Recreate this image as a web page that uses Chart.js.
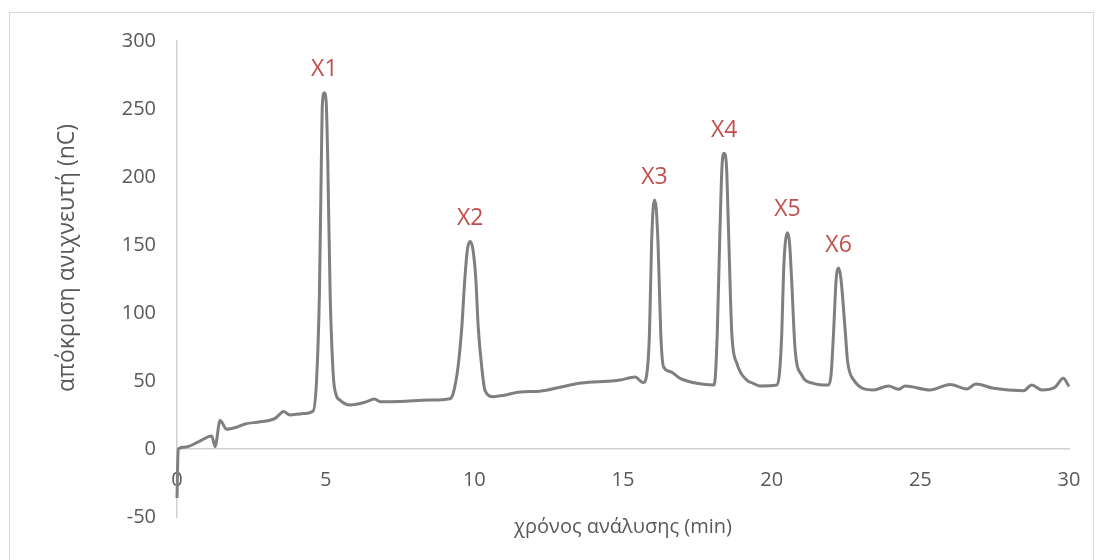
<!DOCTYPE html>
<html lang="el">
<head>
<meta charset="UTF-8">
<title>Χρωματογράφημα</title>
<script src="https://cdn.jsdelivr.net/npm/chart.js@4"></script>
<style>
  body { margin: 0; background: #fff; }
  #wrap { position: relative; width: 1103px; height: 560px; }
</style>
</head>
<body>
<div id="wrap"><canvas id="chart" width="1103" height="560"></canvas></div>
<script>
// chromatogram trace (time in min, response in nC)
const times = [0, 0.04, 0.3, 0.7, 1.17, 1.28, 1.45, 1.67, 2.0, 2.29, 2.8, 3.3, 3.45, 3.58, 3.8, 4.2, 4.58,
  4.70, 4.79, 4.855, 4.89, 4.955, 5.02, 5.07, 5.15, 5.26, 5.35, 5.48, 5.82, 6.38, 6.64, 6.83, 7.5, 8.5, 9.18,
  9.29, 9.45, 9.58, 9.68, 9.77, 9.86, 9.95, 10.05, 10.13, 10.25, 10.36, 10.64, 11.0, 11.54, 12.2, 13.0, 13.6,
  14.6, 14.9, 15.4, 15.68, 15.8, 15.89, 15.96, 16.01, 16.06, 16.12, 16.18, 16.27, 16.36, 16.58, 16.92, 17.48,
  18.04, 18.1, 18.17, 18.26, 18.33, 18.4, 18.48, 18.55, 18.66, 18.83, 19.16, 19.38, 19.61, 20.17, 20.26, 20.34,
  20.40, 20.46, 20.53, 20.60, 20.67, 20.79, 21.01, 21.4, 21.91, 22.0, 22.08, 22.17, 22.25, 22.33, 22.48, 22.55,
  22.75, 23.42, 23.93, 24.26, 24.49, 25.33, 26.0, 26.56, 26.87, 27.46, 28.47, 28.75, 29.08, 29.53, 29.81, 30];
const response = [-36, 0, 1.5, 5, 9.6, 1.7, 21, 14.5, 16, 18.4, 20, 22.5, 25.5, 27.5, 25, 26, 28,
  53, 114.5, 212, 254, 262, 254, 212, 114.5, 53, 40, 36, 32.4, 34.8, 36.8, 34.8, 35, 36, 37,
  41, 60, 90, 125, 147, 152.5, 147, 125, 90, 60, 43, 38.5, 39.5, 42, 42.5, 46, 48.5,
  50, 50.7, 53, 48.8, 55, 85, 150, 176, 183, 176, 150, 85, 60.5, 57, 52, 48.3,
  47, 52, 85, 160, 208, 217.4, 208, 160, 85, 63, 50.7, 48.3, 46.3, 47, 55, 85,
  130, 152, 159, 152, 125, 72.8, 54.4, 48.3, 47, 55, 85, 125, 133, 125, 85, 65,
  51, 43.4, 46.3, 43.9, 46.3, 43.4, 47.5, 44.1, 47.8, 44.6, 42.9, 47, 43.4, 45.4, 52, 46];

// peak labels
const peakLabels = ["X1", "X2", "X3", "X4", "X5", "X6"];
const peakTimes = [4.955, 9.86, 16.06, 18.4, 20.53, 22.25];
const peakValues = [262, 152.5, 183, 217.4, 159, 133];

const xTicks = [0, 5, 10, 15, 20, 25, 30];
const yTicks = [-50, 0, 50, 100, 150, 200, 250, 300];

const xTitle = "χρόνος ανάλυσης (min)";
const yTitle = "απόκριση ανιχνευτή (nC)";

const FONT = "'Open Sans', 'DejaVu Sans', sans-serif";

const points = times.map((t, i) => ({ x: t, y: response[i] }));

// outer frame, axis titles and peak labels
const decorations = {
  id: "decorations",
  beforeDraw(chart) {
    const ctx = chart.ctx;
    ctx.save();
    ctx.strokeStyle = "#d9d9d9";
    ctx.lineWidth = 1;
    ctx.strokeRect(9.5, 12.5, 1084, 600);
    ctx.restore();
  },
  afterDraw(chart) {
    const ctx = chart.ctx;
    const area = chart.chartArea;
    const xs = chart.scales.x;
    const ys = chart.scales.y;
    ctx.save();
    ctx.fillStyle = "#595959";
    ctx.textAlign = "center";
    ctx.textBaseline = "middle";
    ctx.font = "20px " + FONT;
    ctx.fillText(xTitle, (area.left + area.right) / 2, 527);
    ctx.font = "23px " + FONT;
    ctx.translate(67, 258);
    ctx.rotate(-Math.PI / 2);
    ctx.fillText(yTitle, 0, 0);
    ctx.restore();

    ctx.save();
    ctx.fillStyle = "#c0504d";
    ctx.font = "23px " + FONT;
    ctx.textAlign = "center";
    ctx.textBaseline = "middle";
    peakLabels.forEach((lab, i) => {
      ctx.fillText(lab, xs.getPixelForValue(peakTimes[i]), ys.getPixelForValue(peakValues[i]) - 23);
    });
    ctx.restore();
  }
};

new Chart(document.getElementById("chart"), {
  type: "scatter",
  data: {
    datasets: [{
      data: points,
      showLine: true,
      borderColor: "#7f7f7f",
      borderWidth: 3,
      pointRadius: 0,
      cubicInterpolationMode: "monotone",
      fill: false,
      clip: false
    }]
  },
  options: {
    responsive: false,
    animation: false,
    devicePixelRatio: 1,
    layout: { padding: { top: 41, right: 34, bottom: 43, left: 0 } },
    plugins: { legend: { display: false }, tooltip: { enabled: false } },
    scales: {
      x: {
        type: "linear",
        position: { y: 0 },
        min: 0,
        max: 30,
        afterBuildTicks: (s) => { s.ticks = xTicks.map((v) => ({ value: v })); },
        grid: { display: false, drawTicks: false },
        border: { display: true, color: "#d0d0d0", width: 1.5 },
        ticks: { color: "#595959", font: { family: FONT, size: 20 }, padding: 19, maxRotation: 0 }
      },
      y: {
        type: "linear",
        position: "left",
        min: -50,
        max: 300,
        afterBuildTicks: (s) => { s.ticks = yTicks.map((v) => ({ value: v })); },
        afterFit: (s) => { s.width = 177; },
        grid: { display: false, drawTicks: false },
        border: { display: true, color: "#d0d0d0", width: 1.5 },
        ticks: { color: "#595959", font: { family: FONT, size: 20 }, padding: 21 }
      }
    }
  },
  plugins: [decorations]
});
</script>
</body>
</html>
